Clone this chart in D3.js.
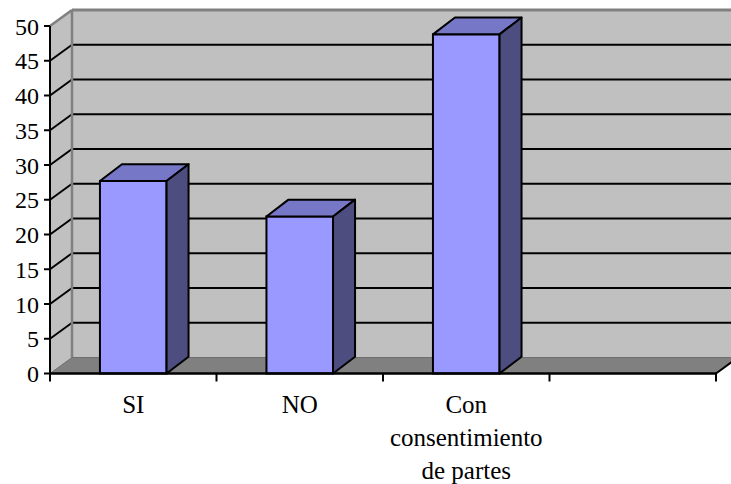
<!DOCTYPE html>
<html>
<head>
<meta charset="utf-8">
<script src="https://cdn.jsdelivr.net/npm/d3@7"></script>
</head>
<body style="margin:0">
<svg id="chart" width="731" height="484"></svg>
<script>
// Category names (line breaks mark wrapped labels) and their values
const categories = ["SI", "NO", "Con\nconsentimiento\nde partes"];
const values = [27.7, 22.6, 48.8];
// Value axis ticks
const yTicks = [0, 5, 10, 15, 20, 25, 30, 35, 40, 45, 50];
// Number of category slots on the axis (the last one is left empty)
const slotCount = 4;

const FONT = "Times New Roman";
const svg = d3.select("#chart");

// Front plane of the 3-D box and the depth offset
const pLeft = 50, pRight = 716, pTop = 26, pBottom = 373.5;
const dx = 22, dy = 16, barDy = 16.8;

const y = d3.scaleLinear().domain([0, 50]).range([pBottom, pTop]);
const x = d3.scaleBand().domain(d3.range(slotCount)).range([pLeft, pRight]).paddingInner(0).paddingOuter(0);
const bw = x.bandwidth();
const barW = bw / 2.5;

const pts = a => a.map(p => p.join(",")).join(" ");

// Back wall
svg.append("polygon")
  .attr("points", pts([[pLeft + dx, pTop - dy], [pRight + dx + 10, pTop - dy], [pRight + dx + 10, pBottom - dy], [pLeft + dx, pBottom - dy]]))
  .attr("fill", "#c0c0c0");
// Side wall
svg.append("polygon")
  .attr("points", pts([[pLeft, pTop], [pLeft + dx, pTop - dy], [pLeft + dx, pBottom - dy], [pLeft, pBottom]]))
  .attr("fill", "#c0c0c0");
// Floor
svg.append("polygon")
  .attr("points", pts([[pLeft, pBottom], [pRight, pBottom], [pRight + dx, pBottom - dy], [pLeft + dx, pBottom - dy]]))
  .attr("fill", "#808080");

// Gridlines on back wall and side wall
const inner = yTicks.filter(v => v > 0 && v < 50);
svg.append("g").selectAll("line").data(inner).join("line")
  .attr("x1", pLeft + dx).attr("x2", 731)
  .attr("y1", v => y(v) - dy).attr("y2", v => y(v) - dy)
  .attr("stroke", "#000").attr("stroke-width", 2);
svg.append("g").selectAll("line").data(inner).join("line")
  .attr("x1", pLeft).attr("y1", v => y(v))
  .attr("x2", pLeft + dx).attr("y2", v => y(v) - dy)
  .attr("stroke", "#000").attr("stroke-width", 2);

// Wall edges
const edge = "#808080";
svg.append("line").attr("x1", pLeft + dx).attr("x2", 731).attr("y1", pTop - dy).attr("y2", pTop - dy)
  .attr("stroke", edge).attr("stroke-width", 3);
svg.append("line").attr("x1", pLeft).attr("y1", pTop).attr("x2", pLeft + dx).attr("y2", pTop - dy)
  .attr("stroke", edge).attr("stroke-width", 2.5);
svg.append("line").attr("x1", pLeft + dx).attr("x2", pLeft + dx).attr("y1", pTop - dy).attr("y2", pBottom - dy)
  .attr("stroke", edge).attr("stroke-width", 2.5);
svg.append("line").attr("x1", pLeft + dx).attr("x2", 731).attr("y1", pBottom - dy).attr("y2", pBottom - dy)
  .attr("stroke", "#6e6e6e").attr("stroke-width", 1);
svg.append("line").attr("x1", pLeft).attr("y1", pBottom).attr("x2", pLeft + dx).attr("y2", pBottom - dy)
  .attr("stroke", "#6e6e6e").attr("stroke-width", 1);
svg.append("line").attr("x1", pRight).attr("y1", pBottom).attr("x2", pRight + dx).attr("y2", pBottom - dy)
  .attr("stroke", "#000").attr("stroke-width", 2);

// Bars
const bars = svg.append("g").selectAll("g").data(values).join("g");
const bx0 = (d, i) => x(i) + (bw - barW) / 2;
const bx1 = (d, i) => x(i) + (bw + barW) / 2;
bars.append("rect")
  .attr("x", bx0).attr("y", d => y(d))
  .attr("width", barW).attr("height", d => y(0) - y(d))
  .attr("fill", "#9999ff").attr("stroke", "#000").attr("stroke-width", 2);
bars.append("polygon")
  .attr("points", (d, i) => pts([[bx0(d, i), y(d)], [bx0(d, i) + dx, y(d) - barDy], [bx1(d, i) + dx, y(d) - barDy], [bx1(d, i), y(d)]]))
  .attr("fill", "#7777c7").attr("stroke", "#000").attr("stroke-width", 2).attr("stroke-linejoin", "round");
bars.append("polygon")
  .attr("points", (d, i) => pts([[bx1(d, i), y(d)], [bx1(d, i) + dx, y(d) - barDy], [bx1(d, i) + dx, y(0) - barDy], [bx1(d, i), y(0)]]))
  .attr("fill", "#4d4d80").attr("stroke", "#000").attr("stroke-width", 2).attr("stroke-linejoin", "round");

// Value axis
svg.append("line").attr("x1", pLeft).attr("x2", pLeft).attr("y1", pTop).attr("y2", pBottom + 1)
  .attr("stroke", "#000").attr("stroke-width", 2);
const yg = svg.append("g");
yg.selectAll("line").data(yTicks).join("line")
  .attr("x1", pLeft - 6).attr("x2", pLeft).attr("y1", d => y(d)).attr("y2", d => y(d))
  .attr("stroke", "#000").attr("stroke-width", 2);
yg.selectAll("text").data(yTicks).join("text")
  .attr("x", 39).attr("y", d => y(d) + 8.5)
  .attr("text-anchor", "end").attr("font-size", 24).attr("font-family", FONT)
  .style("font-family", FONT)
  .text(d => d);

// Category axis
svg.append("line").attr("x1", pLeft - 1).attr("x2", pRight + 1).attr("y1", pBottom).attr("y2", pBottom)
  .attr("stroke", "#000").attr("stroke-width", 2.5);
svg.append("g").selectAll("line").data(d3.range(slotCount + 1)).join("line")
  .attr("x1", i => pLeft + i * bw).attr("x2", i => pLeft + i * bw)
  .attr("y1", pBottom).attr("y2", pBottom + 8)
  .attr("stroke", "#000").attr("stroke-width", 2);
const cl = svg.append("g").selectAll("g").data(categories).join("g");
cl.selectAll("text").data((d, i) => d.split("\n").map(t => ({ t, i }))).join("text")
  .attr("x", d => x(d.i) + bw / 2)
  .attr("y", (d, j) => 412.5 + j * 33.2)
  .attr("text-anchor", "middle").attr("font-size", 25).attr("font-family", FONT)
  .style("font-family", FONT)
  .text(d => d.t);
</script>
</body>
</html>
